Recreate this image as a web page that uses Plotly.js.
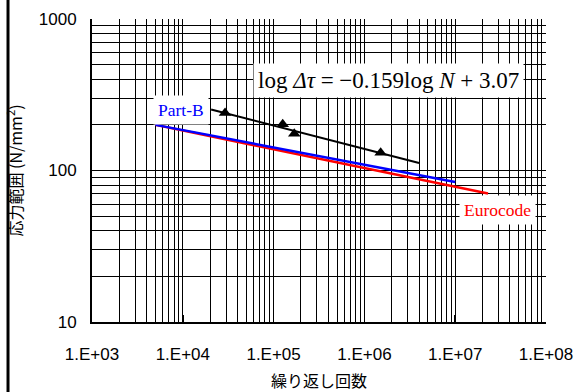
<!DOCTYPE html>
<html>
<head>
<meta charset="utf-8">
<script src="https://cdn.plot.ly/plotly-3.0.1.min.js"></script>
<style>
html,body{margin:0;padding:0;background:#fff;}
</style>
</head>
<body>
<div id="chart" style="width:580px;height:392px;"></div>
<script>
// Test data (triangles)
const testN = [2.92e4, 1.26e5, 1.69e5, 1.51e6];
const testTau = [240, 202, 175, 131];
// Regression line  log Δτ = -0.159 log N + 3.07
const regN = [2.05e4, 4.0e6];
const regTau = [253, 112];
// Part-B design curve
const partBN = [5.0e3, 1.0e7];
const partBTau = [200, 84];
// Eurocode design curve
const euroN = [5.0e3, 2.3e7];
const euroTau = [200, 70.5];
// Axis ticks
const xTickVals = [1e3, 1e4, 1e5, 1e6, 1e7, 1e8];
const xTickText = ['1.E+03', '1.E+04', '1.E+05', '1.E+06', '1.E+07', '1.E+08'];
const yTickVals = [10, 100, 1000];
const yTickText = ['10', '100', '1000'];

function minorVals(lo, hi) {
  const v = [];
  for (let d = lo; d < hi; d *= 10) for (let k = 2; k <= 9; k++) v.push(d * k);
  return v;
}

const traces = [
  {x: euroN, y: euroTau, mode: 'lines', line: {color: '#ff0000', width: 2.5}, hoverinfo: 'skip'},
  {x: partBN, y: partBTau, mode: 'lines', line: {color: '#0000ff', width: 2.5}, hoverinfo: 'skip'},
  {x: regN, y: regTau, mode: 'lines', line: {color: '#000000', width: 2}, hoverinfo: 'skip'},
  {x: testN, y: testTau, mode: 'markers', marker: {symbol: 'triangle-up', size: 11, color: '#000000'}, hoverinfo: 'skip'}
];

const tickFont = {family: '"Liberation Sans", Arial, sans-serif', size: 17, color: '#000'};
const cjk = '"Noto Sans CJK JP", sans-serif';
const serif = '"Liberation Serif", "Times New Roman", serif';

const layout = {
  width: 580, height: 392,
  margin: {l: 92, r: 34, t: 19, b: 70},
  paper_bgcolor: '#fff', plot_bgcolor: '#fff',
  showlegend: false,
  xaxis: {
    type: 'log', range: [3, 8], autorange: false,
    tickmode: 'array', tickvals: xTickVals, ticktext: xTickText,
    tickfont: tickFont, ticks: 'inside', ticklen: 7, tickcolor: '#000', tickwidth: 1.5,
    ticklabelstandoff: 16,
    showgrid: true, gridcolor: '#000', gridwidth: 1,
    minor: {tickmode: 'array', tickvals: minorVals(1e3, 1e8), showgrid: true, gridcolor: '#000', gridwidth: 1, ticks: ''},
    showline: true, linecolor: '#000', linewidth: 2, mirror: false, zeroline: false,
    title: {text: '繰り返し回数', font: {family: cjk, size: 16, color: '#000'}, standoff: 12}
  },
  yaxis: {
    type: 'log', range: [1, 3], autorange: false,
    tickmode: 'array', tickvals: yTickVals, ticktext: yTickText,
    tickfont: tickFont, ticks: 'inside', ticklen: 7, tickcolor: '#000', tickwidth: 1.5,
    ticklabelstandoff: 10,
    showgrid: true, gridcolor: '#000', gridwidth: 1,
    minor: {tickmode: 'array', tickvals: minorVals(10, 1000), showgrid: true, gridcolor: '#000', gridwidth: 1, ticks: ''},
    showline: true, linecolor: '#000', linewidth: 2, mirror: false, zeroline: false,
    title: {text: '応力範囲 (N/mm<sup>2</sup>)', font: {family: cjk, size: 16, color: '#000'}, standoff: 12}
  },
  annotations: [
    {xref: 'paper', yref: 'paper', x: 0.652, y: 0.798, xanchor: 'center', yanchor: 'middle',
     text: 'log <i>Δτ</i> = −0.159log <i>N</i> + 3.07', showarrow: false,
     font: {family: serif, size: 23, color: '#000'}, bgcolor: '#fff', borderpad: 4},
    {xref: 'paper', yref: 'paper', x: 0.196, y: 0.699, xanchor: 'center', yanchor: 'middle',
     text: 'Part-B', showarrow: false,
     font: {family: serif, size: 17.5, color: '#0000ff'}, bgcolor: '#fff', borderpad: 4},
    {xref: 'paper', yref: 'paper', x: 0.894, y: 0.369, xanchor: 'center', yanchor: 'middle',
     text: 'Eurocode', showarrow: false,
     font: {family: serif, size: 17.5, color: '#ff0000'}, bgcolor: '#fff', borderpad: 4}
  ],
  shapes: [
    {type: 'line', xref: 'paper', yref: 'paper', x0: -0.185, x1: -0.185, y0: 0, y1: 1,
     line: {color: '#000', width: 3}, layer: 'above'},
    {type: 'line', xref: 'paper', yref: 'paper', x0: -0.185, x1: -0.185, y0: -0.232, y1: 0,
     line: {color: '#000', width: 3}, layer: 'above'},
    {type: 'line', xref: 'paper', yref: 'paper', x0: -0.185, x1: -0.185, y0: 1, y1: 1.064,
     line: {color: '#000', width: 3}, layer: 'above'}
  ]
};

Plotly.newPlot('chart', traces, layout, {staticPlot: true, displayModeBar: false});
</script>
</body>
</html>
